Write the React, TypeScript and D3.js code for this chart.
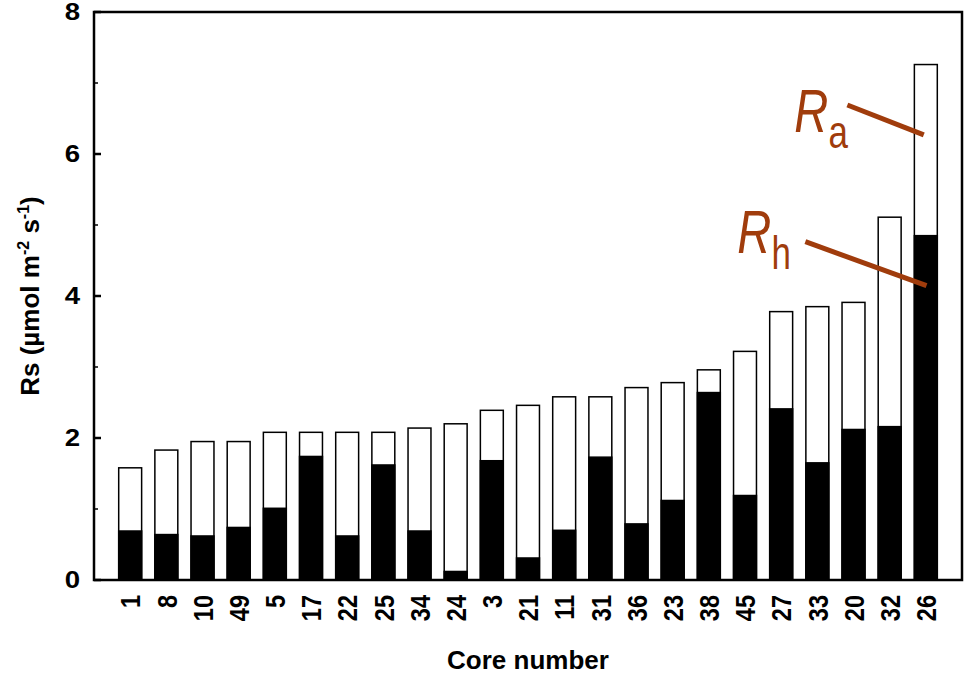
import React from "react";
import * as d3 from "d3";

// core numbers, sorted by total soil respiration
const cores = ["1", "8", "10", "49", "5", "17", "22", "25", "34", "24", "3", "21", "11", "31", "36", "23", "38", "45", "27", "33", "20", "32", "26"];
// total Rs (top of the white bar)
const rsTotal = [1.58, 1.83, 1.95, 1.95, 2.08, 2.08, 2.08, 2.08, 2.14, 2.2, 2.39, 2.46, 2.58, 2.58, 2.71, 2.78, 2.96, 3.22, 3.78, 3.85, 3.91, 5.11, 7.26];
// heterotrophic part Rh (black)
const rhValues = [0.69, 0.64, 0.62, 0.74, 1.01, 1.74, 0.62, 1.62, 0.69, 0.12, 1.68, 0.31, 0.7, 1.73, 0.79, 1.12, 2.64, 1.19, 2.41, 1.65, 2.12, 2.16, 4.85];

const yTicks = [0, 2, 4, 6, 8];
const yMinorTicks = [1, 3, 5, 7];

const W = 970;
const H = 677;
const margin = { top: 12, right: 8, bottom: 97, left: 94 };
const font = "'Liberation Sans', Arial, Helvetica, sans-serif";
const annColor = "#a03c0c";

const App = () => {
  const x = d3
    .scaleBand()
    .domain(cores)
    .range([margin.left, W - margin.right])
    .paddingInner(0.366)
    .paddingOuter(0.683);
  const y = d3.scaleLinear().domain([0, 8]).range([H - margin.bottom, margin.top]);
  const bw = x.bandwidth();
  const x0 = margin.left;
  const x1 = W - margin.right;
  const y0 = y(0);
  const last = cores[cores.length - 1];
  const lx = x(last);

  const annotations = [
    { sub: "a", tx: lx - 120, ty: y(6.31), from: [lx - 67, y(6.69)], to: [lx + bw * 0.41, y(6.27)] },
    { sub: "h", tx: lx - 177, ty: y(4.6), from: [lx - 109, y(4.765)], to: [lx + bw * 0.53, y(4.145)] },
  ];

  return (
    <svg
      width={W}
      height={H}
      style={{ position: "absolute", left: 0, top: 0, background: "#fff" }}
      fontFamily={font}
    >
      {/* bars */}
      {cores.map((c, i) => (
        <g key={c}>
          <rect
            x={x(c)}
            y={y(rsTotal[i])}
            width={bw}
            height={y0 - y(rsTotal[i])}
            fill="#fff"
            stroke="#000"
            strokeWidth={1.5}
          />
          <rect
            x={x(c)}
            y={y(rhValues[i])}
            width={bw}
            height={y0 - y(rhValues[i])}
            fill="#000"
            stroke="#000"
            strokeWidth={1.5}
          />
        </g>
      ))}

      {/* frame */}
      <rect x={x0} y={margin.top} width={x1 - x0} height={y0 - margin.top} fill="none" stroke="#000" strokeWidth={2.5} />

      {/* y ticks, inward */}
      {yTicks.map((t) => (
        <g key={t}>
          <line x1={x0} x2={x0 + 7} y1={y(t)} y2={y(t)} stroke="#000" strokeWidth={2.5} />
          <text
            transform={`translate(80,${y(t)}) scale(1.2,1)`}
            dy="0.36em"
            textAnchor="end"
            fontSize={23}
            fontWeight="bold"
          >
            {t}
          </text>
        </g>
      ))}
      {yMinorTicks.map((t) => (
        <line key={t} x1={x0} x2={x0 + 4} y1={y(t)} y2={y(t)} stroke="#000" strokeWidth={1.5} />
      ))}

      {/* x tick labels, rotated */}
      {cores.map((c) => (
        <text
          key={c}
          transform={`translate(${x(c) + bw / 2},${y0 + 15}) rotate(-90) scale(1,1.2)`}
          dy="0.36em"
          textAnchor="end"
          fontSize={23.5}
          fontWeight="bold"
        >
          {c}
        </text>
      ))}

      {/* axis titles */}
      <text x={(x0 + x1) / 2} y={669} textAnchor="middle" fontSize={26} fontWeight="bold">
        Core number
      </text>
      <text
        transform={`translate(39,${(margin.top + y0) / 2}) rotate(-90)`}
        textAnchor="middle"
        fontSize={26}
        fontWeight="bold"
      >
        Rs (µmol m
        <tspan dy={-10} fontSize={16}>-2</tspan>
        <tspan dy={10}> s</tspan>
        <tspan dy={-10} fontSize={16}>-1</tspan>
        <tspan dy={10}>)</tspan>
      </text>

      {/* Ra / Rh annotations */}
      {annotations.map((a) => (
        <g key={a.sub}>
          <text transform={`translate(${a.tx},${a.ty}) scale(0.76,1)`} fill={annColor}>
            <tspan fontSize={62} fontStyle="italic">R</tspan>
            <tspan fontSize={46} dy={16}>{a.sub}</tspan>
          </text>
          <line
            x1={a.from[0]}
            y1={a.from[1]}
            x2={a.to[0]}
            y2={a.to[1]}
            stroke={annColor}
            strokeWidth={5}
          />
        </g>
      ))}
    </svg>
  );
};

export default App;
